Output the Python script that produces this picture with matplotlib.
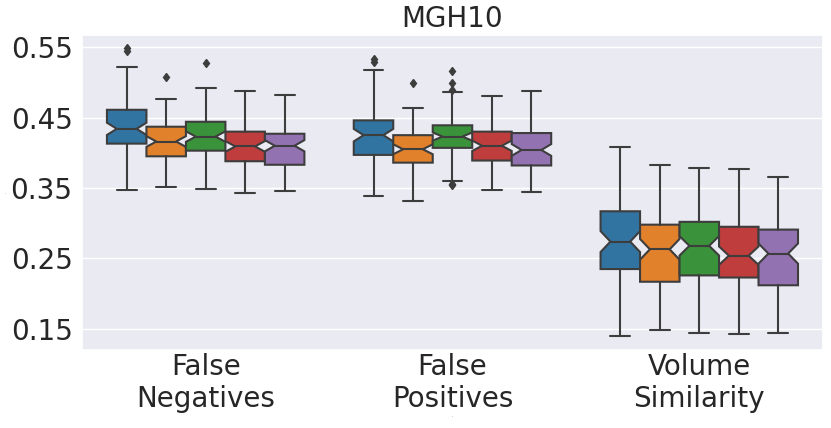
import numpy as np
import matplotlib
matplotlib.use("Agg")
import matplotlib.pyplot as plt
import seaborn as sns

# categories and hue groups
categories = ["False\nNegatives", "False\nPositives", "Volume\nSimilarity"]
n_hues = 5
colors = ["#3274a1", "#e1812c", "#3a923a", "#c03d3e", "#9372b2"]

# box statistics, rows = category, cols = hue
whis_hi = [[0.522, 0.476, 0.492, 0.487, 0.482],
           [0.517, 0.464, 0.486, 0.481, 0.488],
           [0.408, 0.382, 0.379, 0.377, 0.366]]
q3 = [[0.461, 0.437, 0.444, 0.430, 0.427],
      [0.446, 0.425, 0.439, 0.430, 0.428],
      [0.317, 0.298, 0.302, 0.295, 0.291]]
med = [[0.434, 0.416, 0.423, 0.409, 0.410],
       [0.425, 0.405, 0.423, 0.410, 0.404],
       [0.274, 0.263, 0.268, 0.254, 0.257]]
q1 = [[0.413, 0.395, 0.403, 0.388, 0.383],
      [0.397, 0.386, 0.407, 0.389, 0.382],
      [0.235, 0.217, 0.226, 0.223, 0.212]]
whis_lo = [[0.347, 0.351, 0.349, 0.343, 0.346],
           [0.338, 0.332, 0.360, 0.347, 0.345],
           [0.140, 0.149, 0.144, 0.143, 0.144]]
fliers = [[[0.548, 0.544], [0.507], [0.528], [], []],
          [[0.533, 0.529], [0.499], [0.516, 0.499, 0.489, 0.356, 0.354], [], []],
          [[], [], [], [], []]]
n_samples = 75  # used for notch width (median +- 1.57*IQR/sqrt(n))

sns.set_theme(style="darkgrid")
plt.rcParams['font.family'] = ['DejaVu Sans']

fig, ax = plt.subplots(figsize=(8.31, 4.28), dpi=100)
fig.subplots_adjust(left=0.099, right=0.990, top=0.918, bottom=0.182)

width = 0.8 / n_hues
for c in range(len(categories)):
    for h in range(n_hues):
        iqr = q3[c][h] - q1[c][h]
        half = 1.57 * iqr / np.sqrt(n_samples)
        stats = [{
            "med": med[c][h], "q1": q1[c][h], "q3": q3[c][h],
            "whislo": whis_lo[c][h], "whishi": whis_hi[c][h],
            "fliers": fliers[c][h],
            "cilo": med[c][h] - half, "cihi": med[c][h] + half,
        }]
        pos = c - 0.4 + width * (h + 0.5)
        ax.bxp(stats, positions=[pos], widths=width, shownotches=True,
               patch_artist=True, manage_ticks=False,
               boxprops=dict(facecolor=colors[h], edgecolor="#3d3d3d", linewidth=1.5),
               medianprops=dict(color="#3d3d3d", linewidth=1.5),
               whiskerprops=dict(color="#3d3d3d", linewidth=1.5),
               capprops=dict(color="#3d3d3d", linewidth=1.5),
               flierprops=dict(marker="d", markerfacecolor="#3d3d3d",
                               markeredgecolor="#3d3d3d", markersize=4.5))

ax.set_xlim(-0.5, 2.5)
ax.set_ylim(0.120, 0.567)
ax.set_xticks(range(len(categories)))
ax.set_xticklabels(categories, fontsize=20)
ax.set_yticks([0.15, 0.25, 0.35, 0.45, 0.55])
ax.set_yticklabels(["0.15", "0.25", "0.35", "0.45", "0.55"], fontsize=20)
ax.tick_params(axis="x", length=0, pad=2)
ax.tick_params(axis="y", length=0, pad=7)
ax.xaxis.grid(False)
ax.set_title("MGH10", fontsize=20)
ax.set_ylabel("-", fontsize=2, labelpad=2)
ax.set_xlabel("-", fontsize=2, labelpad=1)

plt.savefig("out.png", dpi=100)
plt.close()
